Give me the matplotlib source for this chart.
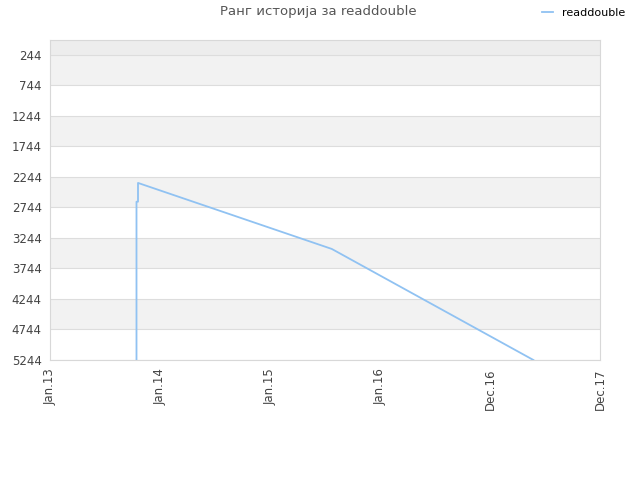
import matplotlib
matplotlib.use("Agg")
import matplotlib.pyplot as plt
import numpy as np
from datetime import datetime, timedelta

# rank history of readdouble
dates = [datetime(2013, 10, 15), datetime(2013, 10, 15), datetime(2013, 10, 15),
         datetime(2013, 10, 20), datetime(2013, 10, 20),
         datetime(2015, 7, 25), datetime(2017, 5, 24)]
ranks = [5244, 3700, 2650, 2650, 2342, 3424, 5244]

ytick_vals = [244, 744, 1244, 1744, 2244, 2744, 3244, 3744, 4244, 4744, 5244]
start = datetime(2013, 1, 1)
xtick_dates = [start + timedelta(days=365 * k) for k in range(6)]

fig = plt.figure(figsize=(6.4, 4.8), dpi=100)
ax = fig.add_axes([50 / 640, 1 - 360 / 480, 550 / 640, 320 / 480])

# alternating bands
ax.axhspan(0, 244, color="#ededed", zorder=0, lw=0)
for i in range(len(ytick_vals) - 1):
    if i % 2 == 0:
        ax.axhspan(ytick_vals[i], ytick_vals[i + 1], color="#f2f2f2", zorder=0, lw=0)
for v in ytick_vals:
    ax.axhline(v, color="#dddddd", lw=0.8, zorder=1)

ax.plot(dates, ranks, color="#90c2f2", lw=1.3, zorder=3, label="readdouble")

ax.set_ylim(5244, 0)
ax.set_xlim(xtick_dates[0], xtick_dates[-1])
ax.set_yticks(ytick_vals)
ax.set_yticklabels([str(v) for v in ytick_vals])
ax.set_xticks(xtick_dates)
ax.set_xticklabels([d.strftime("%b.%y") for d in xtick_dates], rotation=90)
ax.tick_params(axis="both", labelsize=8.5, colors="#444444", length=0, pad=6)
for s in ax.spines.values():
    s.set_color("#d8d8d8")
    s.set_linewidth(0.8)

fig.text(318 / 640, 1 - 12 / 480, "Ранг историја за readdouble", ha="center", va="center",
         fontsize=9.5, color="#555555")
fig.legend(loc="center left", bbox_to_anchor=(542 / 640, 1 - 13 / 480), frameon=False,
           fontsize=8, handlelength=1.0, handletextpad=0.8, borderaxespad=0, borderpad=0)

fig.savefig("out.png", dpi=100)
